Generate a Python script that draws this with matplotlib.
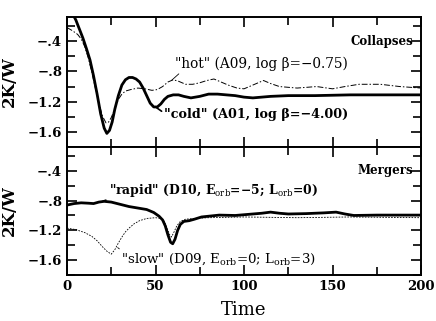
import matplotlib
matplotlib.use("Agg")
import matplotlib.pyplot as plt
from matplotlib.ticker import MultipleLocator, FixedLocator, FixedFormatter

plt.rcParams['font.family'] = 'DejaVu Serif'
plt.rcParams['mathtext.fontset'] = 'dejavuserif'

# top panel: collapses
cold_t = [0, 3, 5, 7, 9, 11, 13, 15, 17, 19, 21, 22.5, 24, 25.5, 27, 29, 31, 33, 35, 37, 39,
          41, 43, 45, 47, 49, 51, 53, 55, 57, 60, 63, 66, 70, 75, 80, 85, 90, 95, 100, 105,
          110, 115, 125, 140, 160, 180, 200]
cold_y = [0.05, -0.03, -0.12, -0.24, -0.36, -0.50, -0.65, -0.86, -1.10, -1.36, -1.55, -1.62,
          -1.58, -1.47, -1.30, -1.12, -0.98, -0.91, -0.88, -0.88, -0.90, -0.94, -1.02, -1.12,
          -1.22, -1.27, -1.27, -1.23, -1.17, -1.13, -1.11, -1.11, -1.13, -1.15, -1.13, -1.10,
          -1.10, -1.11, -1.12, -1.14, -1.15, -1.14, -1.13, -1.12, -1.12, -1.11, -1.11, -1.11]

hot_t = [0, 3, 6, 8, 10, 12, 14, 16, 18, 20, 22, 23.5, 25, 27, 29, 31, 33, 36, 40, 44, 48,
         51, 54, 57, 60, 63, 67, 71, 75, 79, 83, 87, 91, 96, 100, 105, 111, 115, 120, 130,
         141, 150, 157, 165, 177, 188, 200]
hot_y = [-0.22, -0.26, -0.31, -0.37, -0.47, -0.62, -0.81, -1.02, -1.22, -1.39, -1.48, -1.47,
         -1.41, -1.29, -1.17, -1.10, -1.06, -1.04, -1.02, -1.03, -1.05, -1.04, -1.00, -0.94,
         -0.91, -0.93, -0.97, -0.97, -0.95, -0.92, -0.90, -0.94, -0.98, -1.02, -1.03, -0.98,
         -0.92, -0.96, -1.00, -1.02, -1.00, -1.03, -1.00, -0.97, -0.97, -1.00, -1.02]

# bottom panel: mergers
rapid_t = [0, 4, 8, 12, 15, 18, 21, 25, 30, 35, 40, 45, 49, 52, 54, 55.5, 57, 58.5, 59.7,
           61, 62.5, 64, 66, 69, 72, 76, 80, 86, 95, 105, 110, 115, 120, 125, 135, 145, 152,
           157, 162, 175, 200]
rapid_y = [-0.86, -0.84, -0.83, -0.835, -0.84, -0.82, -0.81, -0.82, -0.85, -0.88, -0.90,
           -0.92, -0.96, -1.01, -1.06, -1.14, -1.26, -1.36, -1.38, -1.32, -1.20, -1.12, -1.08,
           -1.07, -1.05, -1.02, -1.01, -0.995, -1.0, -0.98, -0.97, -0.955, -0.97, -0.98,
           -0.975, -0.965, -0.955, -0.98, -1.0, -0.995, -0.995]

slow_t = [0, 5, 10, 14, 17, 20, 22.5, 25, 27, 29, 31, 33, 35.5, 38, 41, 45, 50, 53, 55, 56.5,
          58, 59, 60.5, 62, 64, 67, 72, 80, 100, 130, 160, 200]
slow_y = [-1.17, -1.19, -1.23, -1.28, -1.34, -1.42, -1.48, -1.52, -1.46, -1.37, -1.29, -1.22,
          -1.16, -1.11, -1.07, -1.04, -1.03, -1.04, -1.08, -1.17, -1.26, -1.29, -1.22, -1.14,
          -1.08, -1.05, -1.04, -1.03, -1.02, -1.03, -1.02, -1.03]

ytick_vals = [-0.4, -0.8, -1.2, -1.6]
ytick_labels = ['\u2212.4', '\u2212.8', '\u22121.2', '\u22121.6']

fig = plt.figure(figsize=(4.36, 3.21), dpi=100)
ax1 = fig.add_axes([0.1537, 0.542, 0.812, 0.405])
ax2 = fig.add_axes([0.1537, 0.1433, 0.812, 0.3987])

for ax in (ax1, ax2):
    ax.set_xlim(0, 200)
    ax.set_ylim(-1.8, -0.08)
    ax.xaxis.set_major_locator(MultipleLocator(50))
    ax.xaxis.set_minor_locator(MultipleLocator(25))
    ax.yaxis.set_major_locator(FixedLocator(ytick_vals))
    ax.yaxis.set_major_formatter(FixedFormatter(ytick_labels))
    ax.yaxis.set_minor_locator(MultipleLocator(0.2))
    ax.tick_params(which='both', direction='in', top=True, right=True, width=1.2)
    ax.tick_params(which='major', length=7, labelsize=9.5)
    ax.tick_params(which='minor', length=6)
    for s in ax.spines.values():
        s.set_linewidth(1.4)
    for lab in ax.get_yticklabels() + ax.get_xticklabels():
        lab.set_fontweight('bold')
    ax.set_ylabel('2K/W', fontsize=12, fontweight='bold', labelpad=7)

ax1.tick_params(labelbottom=False)

ax1.plot(hot_t, hot_y, color='black', lw=0.7, ls=(0, (6, 2, 1.5, 2)))
ax1.plot(cold_t, cold_y, color='black', lw=2.0)
ax1.annotate('"hot" (A09, log \u03b2=\u22120.75)', xy=(58.5, -0.93), xytext=(61, -0.70),
             fontsize=9.8, va='center', ha='left',
             arrowprops=dict(arrowstyle='-', lw=0.6, color='black', shrinkA=0, shrinkB=1,
                             relpos=(0.04, 0.0)))
ax1.annotate('"cold" (A01, log \u03b2=\u22124.00)', xy=(50, -1.27), xytext=(55, -1.37),
             fontsize=9.2, va='center', ha='left', fontweight='bold',
             arrowprops=dict(arrowstyle='-', lw=1.2, color='black', shrinkA=0, shrinkB=1,
                             relpos=(0.0, 0.6)))
ax1.text(195.5, -0.4, 'Collapses', fontsize=8.5, fontweight='bold', ha='right', va='center')

ax2.plot(slow_t, slow_y, color='black', lw=0.6, ls=(0, (2, 1.5)))
ax2.plot(rapid_t, rapid_y, color='black', lw=2.0)
ax2.annotate('"rapid" (D10, E$_{\\rm orb}$=\u22125; L$_{\\rm orb}$=0)', xy=(19.6, -0.815),
             xytext=(23.5, -0.668), fontsize=8.9, va='center', ha='left', fontweight='bold',
             arrowprops=dict(arrowstyle='-', lw=1.2, color='black', shrinkA=0, shrinkB=1,
                             relpos=(0.02, 0.1)))
ax2.annotate('"slow" (D09, E$_{\\rm orb}$=0; L$_{\\rm orb}$=3)', xy=(28, -1.42),
             xytext=(30.5, -1.59), fontsize=9.6, va='center', ha='left',
             arrowprops=dict(arrowstyle='-', lw=0.6, color='black', shrinkA=0, shrinkB=1,
                             relpos=(0.02, 0.9)))
ax2.text(195.5, -0.39, 'Mergers', fontsize=8.5, fontweight='bold', ha='right', va='center')
ax2.set_xlabel('Time', fontsize=13, labelpad=6)

fig.savefig('out.png', dpi=100)
